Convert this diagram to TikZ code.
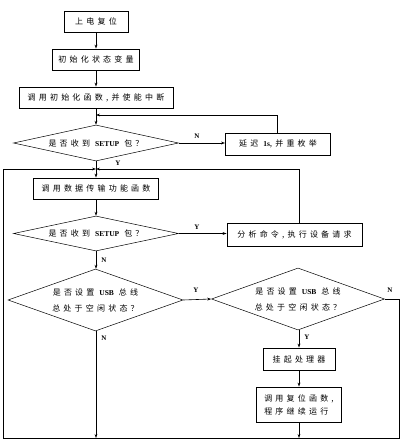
\documentclass[tikz,border=0pt]{standalone}
\usepackage{fontspec}
\newfontfamily\cjk[LetterSpace=40]{Noto Sans CJK SC}
\newfontfamily\latfont{Liberation Serif}
\newcommand\lat[1]{{\latfont\bfseries\fontsize{7.5}{8}\selectfont #1}}
\usetikzlibrary{positioning,arrows.meta,shapes.geometric}

\begin{document}
\begin{tikzpicture}[x=1pt, y=-1pt, >={Stealth[length=4pt,width=2.8pt]},
  box/.style={draw, line width=0.8pt, inner sep=0pt, font=\cjk\fontsize{8}{13}\selectfont},
  dia/.style={diamond, draw, line width=0.5pt, inner sep=0pt, align=center, font=\cjk\fontsize{8}{16}\selectfont},
  lab/.style={font=\latfont\bfseries\fontsize{7}{8}\selectfont}, line/.style={line width=0.6pt}]
\useasboundingbox (0,0) rectangle (403,443);
% left column
\node[box, minimum width=64pt, minimum height=21pt] (start) at (96,21.5) {上电复位};
\node[box, minimum width=87pt, minimum height=21pt] (init) at (96,59.5) {初始化状态变量};
\node[box, minimum width=154pt, minimum height=21pt] (enable) at (96,97.5) {调用初始化函数,并使能中断};
\node[dia, aspect=4.6, minimum width=165pt, minimum height=36pt] (q1) at (96,143) {是否收到 \lat{SETUP} 包？};
\node[box, minimum width=125pt, minimum height=21pt] (xfer) at (96,188.5) {调用数据传输功能函数};
\node[dia, aspect=4.7, minimum width=165pt, minimum height=35pt] (q2) at (96,233.5) {是否收到 \lat{SETUP} 包？};
\node[dia, aspect=2.8, minimum width=175pt, minimum height=62pt] (q3) at (95.5,300) {是否设置 \lat{USB} 总线\\总处于空闲状态？};
% right column
\node[box, minimum width=105pt, minimum height=22pt] (delay) at (278,144) {延迟 \lat{1s},并重枚举};
\node[box, minimum width=135pt, minimum height=23pt] (parse) at (294.5,234.5) {分析命令,执行设备请求};
\node[dia, aspect=2.8, minimum width=173pt, minimum height=62pt] (q4) at (298,299) {是否设置 \lat{USB} 总线\\总处于空闲状态？};
\node[box, minimum width=72pt, minimum height=22pt] (halt) at (299,359) {挂起处理器};
\node[box, minimum width=85pt, minimum height=35pt, align=left] (reset) at (299,404.5) {调用复位函数,\\程序继续运行};
% junctions
\coordinate (j1) at (96,115); \coordinate (j2) at (96,169);
\coordinate (bl) at (3,438); \coordinate (br) at (399,438);
% connectors
\draw[->, line] (start) -- (init); \draw[->, line] (init) -- (enable);
\draw[->, line] (enable) -- (q1.north);
\draw[->, line] (delay.north -| 277,0) |- (j1);
\draw[->, line] (q1.east) -- (delay.west |- q1.east);
\draw[->, line] (q1.south) -- (xfer.north);
\draw[->, line] (parse.north -| 299,0) |- (j2);
\draw[->, line] (bl) |- (j2);
\draw[->, line] (xfer) -- (q2.north);
\draw[->, line] (q2.east) -- (parse.west |- q2.east);
\draw[->, line] (q2.south) -- (q3.north -| q2.south);
\draw[->, line] (q3.east) -- (q4.west);
\draw[->, line] (q3.south -| j2) -- (bl -| j2);
\draw[->, line] (q4.south -| halt) -- (halt.north);
\draw[->, line] (halt) -- (reset);
\draw[->, line] (reset.south) -- (bl -| reset.south);
\draw[line] (q4.east) -| (br) -- (bl);
% branch labels
\node[lab] (n1) at (197,136) {N}; \node[lab] (y1) at (118,163) {Y};
\node[lab] (y2) at (197,227) {Y}; \node[lab] (n2) at (104,260) {N};
\node[lab] (y3) at (196,290) {Y}; \node[lab] (n3) at (104,338) {N};
\node[lab] (n4) at (390,290) {N}; \node[lab] (y4) at (307,337) {Y};
\end{tikzpicture}
\end{document}
